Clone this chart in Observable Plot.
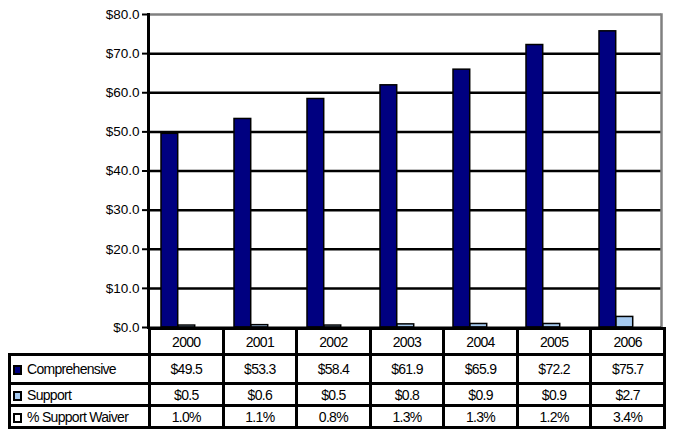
<!DOCTYPE html>
<html>
<head>
<meta charset="utf-8">
<script src="https://cdn.jsdelivr.net/npm/d3@7"></script>
<script src="https://cdn.jsdelivr.net/npm/@observablehq/plot@0.6"></script>
<style>
  body { margin: 0; background: #fff; font-family: "Liberation Sans", Arial, sans-serif; }
  #chart svg { display: block; }
  #table { margin-top: -9px; position: relative; }
  table { border-collapse: collapse; margin-left: 8px; table-layout: fixed; font-size: 14px; letter-spacing: -0.7px; color: #000; }
  td { border: 3px solid #000; text-align: center; padding: 0; }
  td.lab { text-align: left; padding-left: 2px; white-space: nowrap; overflow: hidden; }
  td.blank { border-top: none; border-left: none; }
  tr.r0 td { height: 23px; }
  tr.r1 td { height: 26px; }
  tr.r2 td { height: 19px; }
  tr.r3 td { height: 19px; }
  .key { display: inline-block; width: 5px; height: 6px; border: 2px solid #000; margin-right: 5px; vertical-align: -1px; }
</style>
</head>
<body>
<div id="chart"></div>
<div id="table"></div>
<script>
const years = ["2000", "2001", "2002", "2003", "2004", "2005", "2006"];
const comprehensive = [49.5, 53.3, 58.4, 61.9, 65.9, 72.2, 75.7];
const support = [0.5, 0.6, 0.5, 0.8, 0.9, 0.9, 2.7];
const waiverPct = [1.0, 1.1, 0.8, 1.3, 1.3, 1.2, 3.4];
const yTicks = [0, 10, 20, 30, 40, 50, 60, 70, 80];
const seriesNames = ["Comprehensive", "Support", "% Support Waiver"];
const seriesColors = ["#000080", "#a6caf0", "#ffffff"];

const W = 673, mL = 148, mR = 12;
const band = (W - mL - mR) / years.length;
const barW = 17, lead = 12;

const data = years.map((y, i) => ({
  year: y, comp: comprehensive[i], sup: support[i], waiver: waiverPct[i] / 100
}));

function barOpts(field, k, stroke) {
  const left = lead + k * barW;
  return {
    x: "year", y: field, fill: seriesColors[k], stroke, strokeWidth: 1.5,
    insetLeft: left, insetRight: band - left - barW
  };
}

const chart = Plot.plot({
  width: W,
  height: 336,
  marginLeft: mL,
  marginRight: mR,
  marginTop: 14,
  marginBottom: 9,
  x: { domain: years, padding: 0, axis: null },
  y: { domain: [0, 80] },
  style: { fontFamily: "Liberation Sans, Arial, sans-serif", fontSize: "13.5px", color: "#000" },
  marks: [
    Plot.ruleY(yTicks.filter(d => d > 0 && d < 80), { stroke: "#000", strokeWidth: 2.5 }),
    Plot.ruleY([80], { stroke: "#808080", strokeWidth: 2.5 }),
    Plot.frame({ anchor: "right", stroke: "#808080", strokeWidth: 2.5 }),
    Plot.barY(data, barOpts("comp", 0, "#000")),
    Plot.barY(data, barOpts("sup", 1, "#000")),
    Plot.barY(data, barOpts("waiver", 2, "none")),
    Plot.frame({ anchor: "left", stroke: "#000", strokeWidth: 3 }),
    Plot.ruleY([0], { stroke: "#000", strokeWidth: 2 }),
    Plot.axisY({
      ticks: yTicks, tickSize: 6, tickPadding: 3, strokeWidth: 2,
      tickFormat: d => "$" + d.toFixed(1), label: null, fontSize: 13.5
    })
  ]
});
document.getElementById("chart").appendChild(chart);

// Data table below the chart
const colW = (W - mL - mR + 2) / years.length;
const table = document.createElement("table");
table.style.width = (mL - 8 + colW * years.length) + "px";
const cg = document.createElement("colgroup");
const c0 = document.createElement("col"); c0.style.width = (mL - 8) + "px"; cg.appendChild(c0);
years.forEach(() => { const c = document.createElement("col"); c.style.width = colW + "px"; cg.appendChild(c); });
table.appendChild(cg);

function addRow(cls, label, key, cells) {
  const tr = document.createElement("tr");
  tr.className = cls;
  const th = document.createElement("td");
  if (label === null) { th.className = "blank"; }
  else {
    th.className = "lab";
    if (key) {
      const k = document.createElement("span");
      k.className = "key";
      k.style.background = key;
      th.appendChild(k);
    }
    th.appendChild(document.createTextNode(label));
  }
  tr.appendChild(th);
  cells.forEach(v => { const td = document.createElement("td"); td.textContent = v; tr.appendChild(td); });
  table.appendChild(tr);
}
addRow("r0", null, null, years);
addRow("r1", seriesNames[0], seriesColors[0], comprehensive.map(v => "$" + v.toFixed(1)));
addRow("r2", seriesNames[1], seriesColors[1], support.map(v => "$" + v.toFixed(1)));
addRow("r3", seriesNames[2], seriesColors[2], waiverPct.map(v => v.toFixed(1) + "%"));
document.getElementById("table").appendChild(table);
</script>
</body>
</html>
